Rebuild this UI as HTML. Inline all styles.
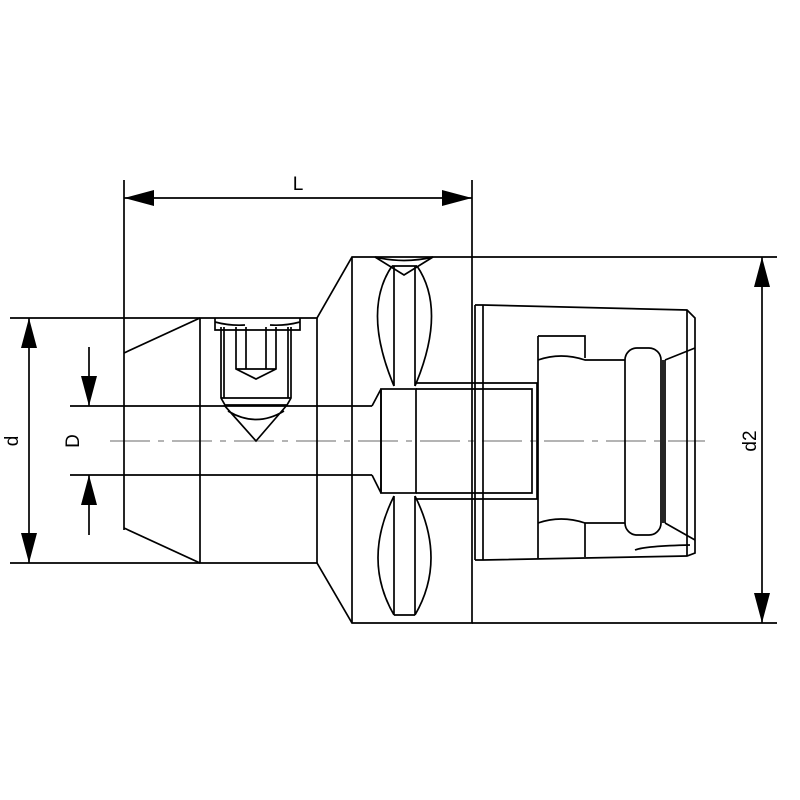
<!DOCTYPE html>
<html><head><style>body{margin:0;background:#fff}svg{display:block}</style></head><body>
<svg width="800" height="800" viewBox="0 0 800 800" xmlns="http://www.w3.org/2000/svg">
<g fill="none" stroke="#000" stroke-width="1.7">
<!-- centerline -->
<line x1="110" y1="441" x2="705" y2="441" stroke="#888" stroke-width="1.2" stroke-dasharray="40,8,6,8"/>
<!-- L dim -->
<line x1="124" y1="180" x2="124" y2="530"/>
<line x1="472" y1="180" x2="472" y2="257"/>
<line x1="124" y1="198" x2="472" y2="198"/>
<path d="M124,198 l30,-8 v16z M472,198 l-30,-8 v16z" fill="#000" stroke="none"/>
<!-- d dim -->
<line x1="10" y1="318" x2="200" y2="318"/>
<line x1="10" y1="563" x2="200" y2="563"/>
<line x1="29" y1="318" x2="29" y2="563"/>
<path d="M29,318 l-8,30 h16z M29,563 l-8,-30 h16z" fill="#000" stroke="none"/>
<!-- D dim -->
<line x1="70" y1="406" x2="372" y2="406"/>
<line x1="70" y1="475" x2="372" y2="475"/>
<line x1="89" y1="347" x2="89" y2="406"/>
<line x1="89" y1="475" x2="89" y2="535"/>
<path d="M89,406 l-8,-30 h16z M89,475 l-8,30 h16z" fill="#000" stroke="none"/>
<!-- d2 dim -->
<line x1="472" y1="257" x2="777" y2="257"/>
<line x1="472" y1="623" x2="777" y2="623"/>
<line x1="762" y1="257" x2="762" y2="623"/>
<path d="M762,257 l-8,30 h16z M762,623 l-8,-30 h16z" fill="#000" stroke="none"/>
<!-- shank -->
<path d="M124,353 L200,318 L317,318 L352,257 L472,257 L472,623 L352,623 L317,563 L200,563 L124,528"/>
<line x1="200" y1="318" x2="200" y2="563"/>
<line x1="317" y1="318" x2="317" y2="563"/>
<line x1="352" y1="257" x2="352" y2="623"/>
<!-- bore step -->
<path d="M372,406 L381,389 L381,493 L372,475"/>
<rect x="381" y="389" width="35" height="104"/>
<path d="M416,383 H537 V499 H416 M416,389 H532 V493 H416"/>
<!-- slots -->
<path d="M375,257 Q404,264 433,257 L404,275z"/>
<path d="M392,266 Q362,310 394,386 M417,266 Q447,310 415,386 M394,266 V386 M415,266 V386 M392,266 H417"/>
<path d="M394,496 V615 M415,496 V615 M394,496 Q362,560 394,615 M415,496 Q447,560 415,615 M394,615 H415"/>
<!-- screw -->
<path d="M215,318 V330 H300 V318"/>
<path d="M215,322 Q230,326 245,325 M300,322 Q285,326 270,325"/>
<path d="M221,327 V398 L225,405 H287 L291,398 V327"/>
<path d="M224,327 V398 M288,327 V398"/>
<path d="M236,327 V369 L256,379 L276,369 V327 M246,327 V369 M266,327 V369 M236,369 H276"/>
<path d="M221,398 H291 M224,405 L256,441 L287,405 M228,411 Q256,428 284,411"/>
<!-- nut -->
<line x1="475" y1="305" x2="475" y2="560"/>
<path d="M475,305 H483 L687,310 L695,318 V553 L687,556 L483,560 H475"/>
<line x1="483" y1="305" x2="483" y2="560"/>
<line x1="687" y1="310" x2="687" y2="556"/>
<path d="M538,336 H585 V358 M538,336 V558"/>
<path d="M538,360 Q561,352 585,360 H625 M538,523 Q561,515 585,523 H625"/>
<path d="M585,523 V557 M635,550 Q645,546 690,545"/>
<rect x="625" y="348" width="36" height="187" rx="12"/>
<path d="M663,360 V523 M665,360 L695,348 M665,523 L695,540 M665,360 V523"/>
</g>
<g font-family="Liberation Sans, sans-serif" font-size="19" fill="#000">
<text x="298" y="190" text-anchor="middle">L</text>
<text transform="translate(18,441) rotate(-90)" text-anchor="middle">d</text>
<text transform="translate(79,441) rotate(-90)" text-anchor="middle">D</text>
<text transform="translate(756,441) rotate(-90)" text-anchor="middle">d2</text>
</g>
</svg>
</body></html>
